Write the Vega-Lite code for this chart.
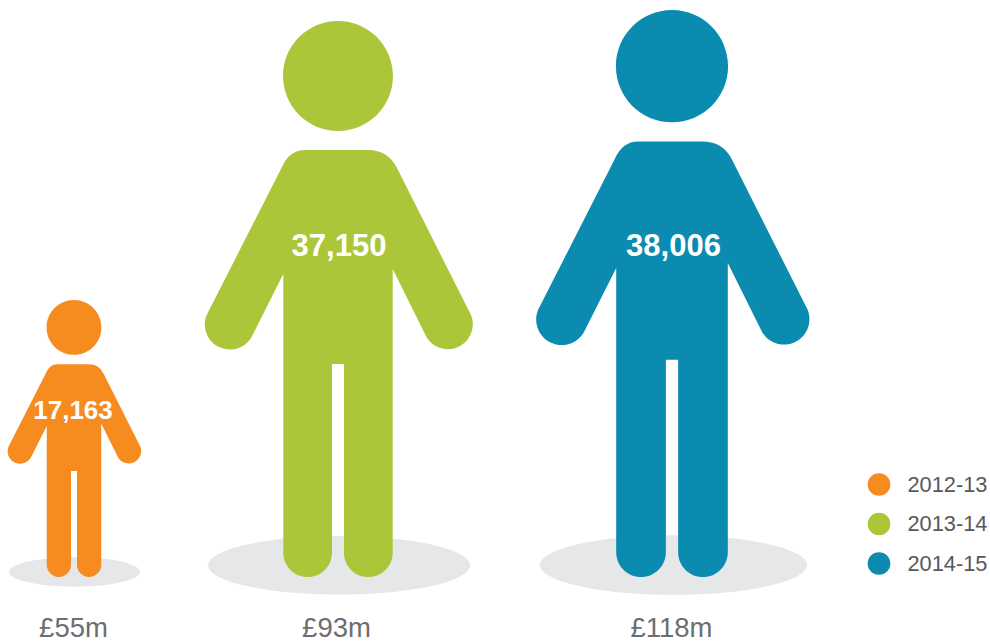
{
  "$schema": "https://vega.github.io/schema/vega-lite/v6.json",
  "width": 990,
  "height": 641,
  "padding": 0,
  "autosize": {"type": "none"},
  "background": "white",
  "view": {"stroke": null},
  "data": {"values": [
    {"year": "2012-13", "start": 2012, "people": 17163, "spend": "£55m"},
    {"year": "2013-14", "start": 2013, "people": 37150, "spend": "£93m"},
    {"year": "2014-15", "start": 2014, "people": 38006, "spend": "£118m"}
  ]},
  "resolve": {"scale": {"y": "independent", "size": "independent", "x": "independent"}},
  "layer": [
    {
      "mark": {"type": "point", "filled": true, "opacity": 1, "strokeWidth": 0, "color": "#e6e7e8",
        "shape": "M-1 0 A1 0.2237 0 1 1 1 0 A1 0.2237 0 1 1 -1 0 Z"},
      "encoding": {
        "x": {"field": "start", "type": "quantitative", "axis": null, "scale": {"domain": [2012, 2013, 2014], "range": [74.5, 339, 673.5]}},
        "y": {"field": "start", "type": "quantitative", "axis": null, "scale": {"domain": [2012, 2013, 2014], "range": [572, 565.3, 565]}},
        "size": {"field": "people", "type": "quantitative", "legend": null, "scale": {"domain": [17163, 37150, 38006], "range": [17161, 68644, 71289]}}
      }
    },
    {
      "mark": {"type": "point", "filled": true, "opacity": 1, "strokeWidth": 0,
        "shape": "M-0.1187 -1.536 L0.1079 -1.536 Q0.18 -1.536 0.2122 -1.471 L0.4785 -0.9424 A0.0896 0.0896 0 0 1 0.3177 -0.8644 L0.1968 -1.108 L0.1968 -0.0876 A0.0876 0.0876 0 0 1 0.0216 -0.0876 L0.0216 -0.7662 L-0.0216 -0.7662 L-0.0216 -0.0876 A0.0876 0.0876 0 0 1 -0.1968 -0.0876 L-0.1968 -1.09 L-0.3104 -0.8644 A0.09 0.09 0 0 1 -0.4723 -0.9424 L-0.2014 -1.475 Q-0.175 -1.536 -0.1187 -1.536 Z M-0.1978 -1.802 A0.1978 0.1978 0 1 1 0.1978 -1.802 A0.1978 0.1978 0 1 1 -0.1978 -1.802 Z"},
      "encoding": {
        "x": {"field": "start", "type": "quantitative", "axis": null, "scale": {"domain": [2012, 2013, 2014], "range": [74, 338, 672]}},
        "y": {"field": "start", "type": "quantitative", "axis": null, "scale": {"domain": [2012, 2013, 2014], "range": [577, 577, 577]}},
        "size": {"field": "people", "type": "quantitative", "legend": null, "scale": {"domain": [17163, 37150, 38006], "range": [76729, 309136, 321489]}},
        "color": {"field": "year", "type": "nominal",
          "scale": {"domain": ["2012-13", "2013-14", "2014-15"], "range": ["#f68b1f", "#acc63a", "#0b8bb0"]},
          "legend": {"title": null, "orient": "none", "legendX": 867.5, "legendY": 473, "padding": 0, "symbolType": "circle", "symbolSize": 515, "symbolStrokeWidth": 0, "symbolOpacity": 1, "labelFont": "Liberation Sans", "labelFontSize": 21.8, "labelColor": "#58595b", "labelOffset": 17, "rowPadding": 15.5}}
      }
    },
    {
      "mark": {"type": "text", "font": "Liberation Sans", "fontWeight": "bold", "color": "white", "baseline": "middle", "align": "center"},
      "encoding": {
        "x": {"field": "start", "type": "quantitative", "axis": null, "scale": {"domain": [2012, 2013, 2014], "range": [73, 339, 673.5]}},
        "y": {"field": "start", "type": "quantitative", "axis": null, "scale": {"domain": [2012, 2013, 2014], "range": [411, 247, 247]}},
        "size": {"field": "start", "type": "quantitative", "legend": null, "scale": {"domain": [2012, 2013, 2014], "range": [26, 31, 31]}},
        "text": {"field": "people", "type": "quantitative", "format": ","}
      }
    },
    {
      "mark": {"type": "text", "font": "Liberation Sans", "fontSize": 27.5, "color": "#6d6e71", "baseline": "alphabetic", "align": "center"},
      "encoding": {
        "x": {"field": "start", "type": "quantitative", "axis": null, "scale": {"domain": [2012, 2013, 2014], "range": [73.5, 336.5, 671.5]}},
        "y": {"field": "start", "type": "quantitative", "axis": null, "scale": {"domain": [2012, 2013, 2014], "range": [636.5, 636.5, 636.5]}},
        "text": {"field": "spend", "type": "nominal"}
      }
    }
  ]
}
